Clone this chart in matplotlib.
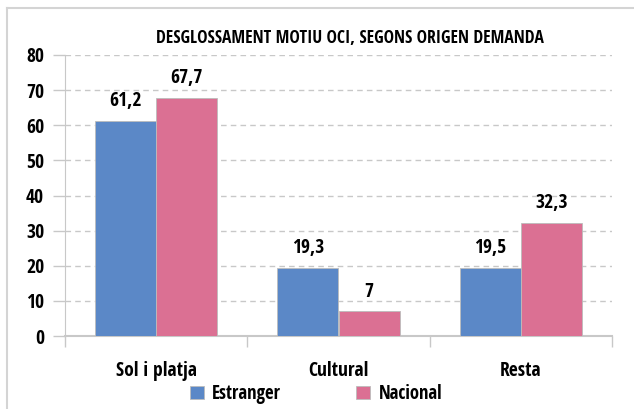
import matplotlib
matplotlib.use("Agg")
import matplotlib.pyplot as plt
import numpy as np
from matplotlib.lines import Line2D

# data
categories = ["Sol i platja", "Cultural", "Resta"]
estranger = [61.2, 19.3, 19.5]
nacional = [67.7, 7, 32.3]
labels_estranger = ["61,2", "19,3", "19,5"]
labels_nacional = ["67,7", "7", "32,3"]

plt.rcParams['font.family'] = ['Open Sans Condensed', 'Roboto Condensed', 'DejaVu Sans']
plt.rcParams['font.weight'] = 'bold'

blue = "#5b88c7"
pink = "#db7093"
grey = "#c8c8c8"

fig = plt.figure(figsize=(6.34, 4.09), dpi=100)
ax = fig.add_axes([65/634, 1-336/409, (612-65)/634, (336-55)/409])

# outer frame of the chart area (only left and top edges are visible)
fx, fy = 7/634, 1-8/409
fig.add_artist(Line2D([fx, fx], [0, fy], transform=fig.transFigure, color="#d4d4d4", lw=1.5))
fig.add_artist(Line2D([fx, 1], [fy, fy], transform=fig.transFigure, color="#d4d4d4", lw=1.5))

x = np.arange(len(categories))
w = 0.335
b1 = ax.bar(x - w/2, estranger, w, color=blue, edgecolor="#bcbcbc", linewidth=0.6, label="Estranger", zorder=3)
b2 = ax.bar(x + w/2, nacional, w, color=pink, edgecolor="#bcbcbc", linewidth=0.6, label="Nacional", zorder=3)

for rect, txt in zip(b1, labels_estranger):
    ax.annotate(txt, (rect.get_x() + rect.get_width()/2, rect.get_height()),
                xytext=(0, 7), textcoords="offset points", ha="center", va="bottom", fontsize=14)
for rect, txt in zip(b2, labels_nacional):
    ax.annotate(txt, (rect.get_x() + rect.get_width()/2, rect.get_height()),
                xytext=(0, 7), textcoords="offset points", ha="center", va="bottom", fontsize=14)

ax.set_xlim(-0.5, 2.5)
ax.set_ylim(0, 80)
ax.set_yticks(range(0, 81, 10))
ax.yaxis.grid(True, linestyle=(0, (4, 3)), color=grey, linewidth=1)
ax.set_axisbelow(True)

ax.set_xticks([-0.5, 0.5, 1.5, 2.5])
ax.set_xticklabels([])
ax.set_xticks(x, minor=True)
ax.set_xticklabels(categories, minor=True)
ax.tick_params(axis="x", which="major", length=8, color=grey, width=1)
ax.tick_params(axis="x", which="minor", length=0, pad=18, labelsize=14)
ax.tick_params(axis="y", length=9, color=grey, width=1, labelsize=14, pad=6)

for s in ["top", "right"]:
    ax.spines[s].set_visible(False)
ax.spines["left"].set_color(grey)
ax.spines["bottom"].set_color(grey)
ax.spines["bottom"].set_linewidth(1.5)

fig.text(350/634, 1-38/409, "DESGLOSSAMENT MOTIU OCI, SEGONS ORIGEN DEMANDA",
         ha="center", va="center", fontsize=12.6)

fig.legend(handles=[b1, b2], labels=["Estranger", "Nacional"], loc="center",
           bbox_to_anchor=(316/634, 1-394/409), ncol=2, frameon=False,
           fontsize=13.5, handlelength=0.75, handleheight=0.75, handletextpad=0.45,
           columnspacing=4.0, borderpad=0)

fig.savefig("out.png", dpi=100)
